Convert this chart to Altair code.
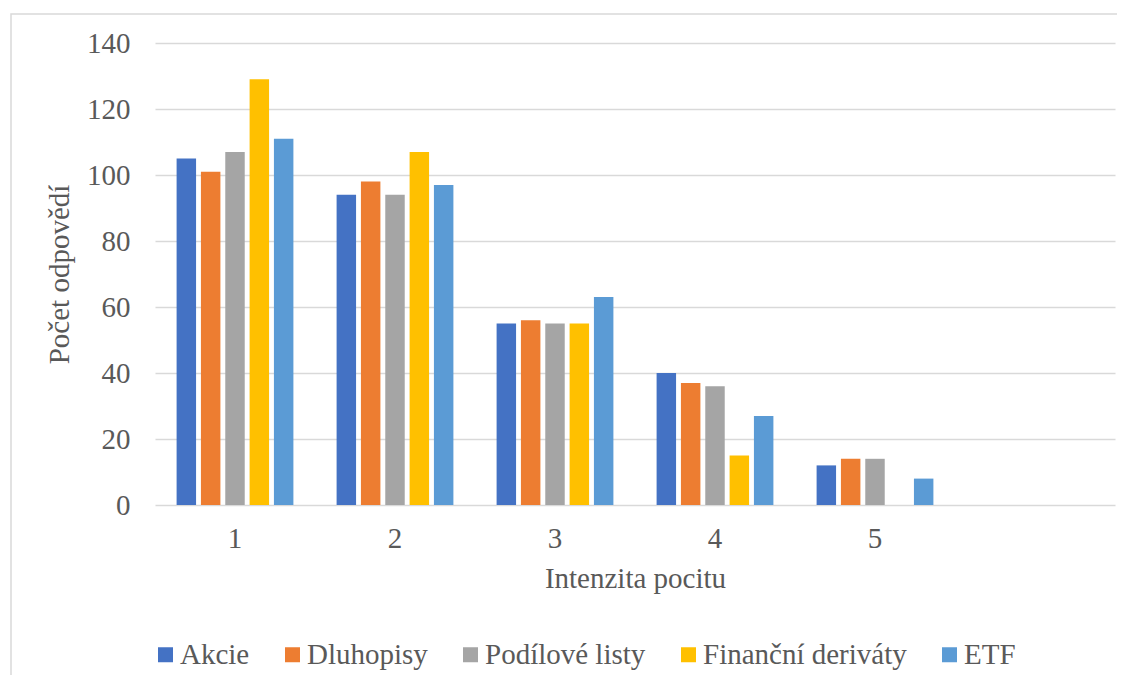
import altair as alt
import pandas as pd

categories = ["1", "2", "3", "4", "5", ""]
series = ["Akcie", "Dluhopisy", "Podílové listy", "Finanční deriváty", "ETF"]
colors = ["#4472C4", "#ED7D31", "#A5A5A5", "#FFC000", "#5B9BD5"]
akcie = [105, 94, 55, 40, 12]
dluhopisy = [101, 98, 56, 37, 14]
podilove = [107, 94, 55, 36, 14]
derivaty = [129, 107, 55, 15, 0]
etf = [111, 97, 63, 27, 8]

values = [akcie, dluhopisy, podilove, derivaty, etf]
rows = []
for s, vals in zip(series, values):
    for c, v in zip(categories[:5], vals):
        rows.append({"Intenzita": c, "Serie": s, "Pocet": v})
df = pd.DataFrame(rows)

FONT = "Liberation Serif"
TXT = "#595959"
FS = 29

bars = alt.Chart(df).mark_bar().encode(
    x=alt.X("Intenzita:N",
            scale=alt.Scale(domain=categories, paddingInner=0.27, paddingOuter=0.135),
            axis=alt.Axis(title="Intenzita pocitu", labelAngle=0, domain=False, ticks=False,
                          labelPadding=19, titlePadding=11)),
    xOffset=alt.XOffset("Serie:N", scale=alt.Scale(domain=series, paddingInner=0.2, paddingOuter=0)),
    y=alt.Y("Pocet:Q",
            scale=alt.Scale(domain=[0, 140]),
            axis=alt.Axis(title="Počet odpovědí", values=[0, 20, 40, 60, 80, 100, 120, 140],
                          domain=False, ticks=False, labelPadding=25, titlePadding=12,
                          gridColor="#d9d9d9", gridWidth=1.5)),
    color=alt.Color("Serie:N", scale=alt.Scale(domain=series, range=colors),
                    legend=alt.Legend(title=None, orient="none", direction="horizontal",
                                      legendX=-4, legendY=597, padding=0, symbolType="square",
                                      symbolSize=225, symbolStrokeWidth=0, labelOffset=0,
                                      columnPadding=28)),
)

border = alt.Chart(pd.DataFrame({"k": [0]})).mark_rect(
    fill=None, stroke="#d9d9d9", strokeWidth=1.5, clip=False
).encode(
    x=alt.value(-144), x2=alt.value(1000), y=alt.value(-29), y2=alt.value(700)
)

chart = alt.layer(border, bars).properties(
    width=960, height=462,
    autosize=alt.AutoSizeParams(type="none"),
    padding={"left": 147, "top": 35, "right": 2, "bottom": 170},
).configure_view(stroke=None).configure_axis(
    labelFont=FONT, titleFont=FONT, labelFontSize=FS, titleFontSize=FS,
    labelColor=TXT, titleColor=TXT, titleFontWeight="normal",
).configure_legend(
    labelFont=FONT, labelFontSize=FS, labelColor=TXT, labelLimit=400,
)

chart.save("out.html", embed_options={"renderer": "svg", "actions": False})
